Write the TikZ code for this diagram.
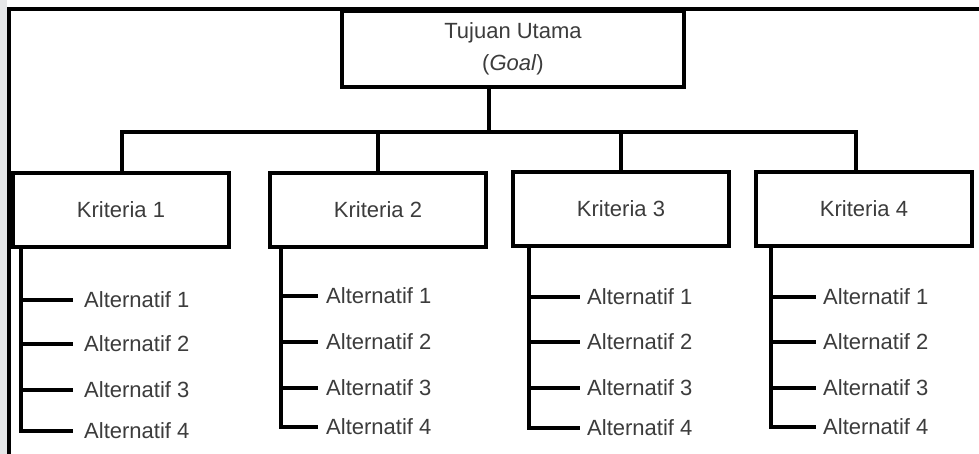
\documentclass[tikz,border=0pt]{standalone}
\usepackage{fontspec}
\setmainfont{Liberation Sans}
\definecolor{txt}{HTML}{3C3C3C}
\definecolor{margin}{HTML}{E6E7E8}
\begin{document}
\begin{tikzpicture}[x=1pt,y=-1pt,
  line join=miter,
  box/.style={draw=black,line width=3.2pt,fill=white,minimum width=216pt,minimum height=74pt,inner sep=0pt,
    text=txt,font=\fontsize{22}{26}\selectfont},
  goalbox/.style={box,minimum width=342pt,minimum height=76pt,align=center,font=\fontsize{22}{34}\selectfont},
  alt/.style={anchor=west,inner ysep=0pt,text=txt,font=\fontsize{22}{26}\selectfont},
  link/.style={draw=black,line width=3.2pt},
  frame/.style={draw=black,line width=4pt}]
\useasboundingbox (0,0) rectangle (979,454);
\fill[white] (0,0) rectangle (979,454);
\fill[margin] (0,0) rectangle (7,454);
% page frame
\draw[frame] (9,456) -- (9,9.5) -- (981,9.5);

% goal
\node[goalbox] (goal) at (513,49) {\raisebox{-2pt}{Tujuan Utama}\\(\textit{Goal})};
\coordinate (bus) at (489,132);
\coordinate (busL) at (122,132);
\coordinate (busR) at (856,132);
\draw[link] (goal.south -| bus) -- (bus);
\draw[link,line cap=rect] (busL) -- (busR);

% criteria with their alternatives
\foreach \i/\cx/\cy/\dx/\sx/\tx/\gap/\ya/\yb/\yc/\yd in {
  1/121/210/122/21/84/11/300/344/390/431,
  2/378/210/378/281/326/8/296/342/388/427,
  3/621/209/621/529/587/7/297/342/388/428,
  4/864/209/856/771/823/7/297/342/388/427}{
  \node[box] (k\i) at (\cx,\cy) {Kriteria \i};
  \coordinate (d\i) at (\dx,132);
  \draw[link] (d\i) -- (d\i |- k\i.north);
  \coordinate (s\i) at (\sx,0);
  \node[alt,inner xsep=\gap pt] (a\i1) at (\tx-\gap,\ya) {Alternatif 1};
  \node[alt,inner xsep=\gap pt] (a\i2) at (\tx-\gap,\yb) {Alternatif 2};
  \node[alt,inner xsep=\gap pt] (a\i3) at (\tx-\gap,\yc) {Alternatif 3};
  \node[alt,inner xsep=\gap pt] (a\i4) at (\tx-\gap,\yd) {Alternatif 4};
  \draw[link] (s\i |- k\i.south) |- (a\i4.west);
  \foreach \j in {1,2,3}{
    \draw[link] (s\i |- a\i\j.west) -- (a\i\j.west);
  }
}
\end{tikzpicture}
\end{document}
